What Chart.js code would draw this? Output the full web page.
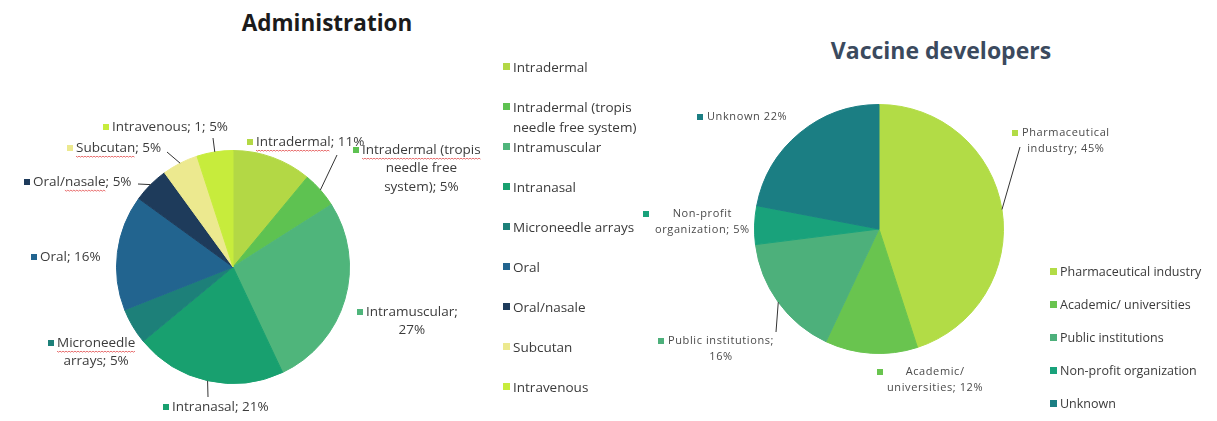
<!DOCTYPE html>
<html>
<head>
<meta charset="utf-8">
<title>Administration and vaccine developers</title>
<script src="https://cdn.jsdelivr.net/npm/chart.js@4.4.1/dist/chart.umd.min.js"></script>
<style>
  html, body { margin: 0; padding: 0; background: #fff; overflow: hidden; }
  body { width: 1217px; height: 421px; position: relative; font-family: "Open Sans", sans-serif; }
  .title { position: absolute; font-weight: bold; white-space: nowrap; transform: translate(-50%, -50%); }
  #adminTitle { left: 327px; top: 22px; font-size: 22.5px; color: #1b1b1b; }
  #devTitle { left: 941px; top: 50px; font-size: 23px; color: #3b4a5e; }
  canvas { position: absolute; top: 0; }
  #adminChart { left: 0; }
  #devChart { left: 640px; }
  .legend { position: absolute; top: 0; margin: 0; padding: 0; list-style: none; color: #3a3a3a; }
  .legend li { position: absolute; left: 0; display: flex; align-items: flex-start; line-height: 20px; }
  .legend .box { flex: none; width: 7px; height: 7px; margin: 6px 3px 0 0; }
  #adminLegend { left: 503px; font-size: 13.5px; }
  #adminLegend li { width: 150px; }
  #devLegend { left: 1050px; font-size: 12.5px; }
  #devLegend li { white-space: nowrap; }
</style>
</head>
<body>
<div class="title" id="adminTitle">Administration</div>
<div class="title" id="devTitle">Vaccine developers</div>
<canvas id="adminChart" width="640" height="421"></canvas>
<canvas id="devChart" width="577" height="421"></canvas>
<ul class="legend" id="adminLegend"></ul>
<ul class="legend" id="devLegend"></ul>
<script>
// Administration routes (share of vaccines, %)
const adminCategories = [
  'Intradermal', 'Intradermal (tropis needle free system)', 'Intramuscular', 'Intranasal',
  'Microneedle arrays', 'Oral', 'Oral/nasale', 'Subcutan', 'Intravenous'
];
const adminValues = [11, 5, 27, 21, 5, 16, 5, 5, 5];
const adminColors = [
  '#b3d845', '#5ec251', '#4fb57b', '#18a06f', '#1d8079', '#22648f', '#1e3b5b', '#ece98f', '#c7ec3c'
];
// Data label lines, {v} is replaced by the slice value
const adminLabelText = [
  ['Intradermal; {v}%'],
  ['Intradermal (tropis', 'needle free', 'system); {v}%'],
  ['Intramuscular;', '{v}%'],
  ['Intranasal; {v}%'],
  ['Microneedle', 'arrays; {v}%'],
  ['Oral; {v}%'],
  ['Oral/nasale; {v}%'],
  ['Subcutan; {v}%'],
  ['Intravenous; 1; {v}%']
];

// Vaccine developers (share, %)
const devCategories = [
  'Pharmaceutical industry', 'Academic/ universities', 'Public institutions',
  'Non-profit organization', 'Unknown'
];
const devValues = [45, 12, 16, 5, 22];
const devColors = ['#b2dc46', '#69c44f', '#4db07b', '#19a27b', '#1b7e83'];
const devLabelText = [
  ['Pharmaceutical', 'industry; {v}%'],
  ['Academic/', 'universities; {v}%'],
  ['Public institutions;', '{v}%'],
  ['Non-profit', 'organization; {v}%'],
  ['Unknown {v}%']
];

// Label placement, offsets in px from the pie centre (block left, first line middle)
const adminPlacement = [
  { x: 23, y: -125, mark: 'Intradermal' },
  { x: 129, y: -117, leader: [104, -112], mark: 'Intradermal (tropis' },
  { x: 133, y: 45 },
  { x: -61, y: 140, leader: [-25, 130] },
  { x: -176, y: 76, mark: 'Microneedle' },
  { x: -193, y: -10 },
  { x: -200, y: -85, leader: [-95, -83], mark: 'nasale' },
  { x: -157, y: -119, leader: [-66, -115], mark: 'Subcutan' },
  { x: -121, y: -140, leader: [-20, -129] }
];
const devPlacement = [
  { x: 143, y: -96, leader: [141, -82] },
  { x: 8, y: 143 },
  { x: -211, y: 112, leader: [-103, 103] },
  { x: -224, y: -15, gap: 12 },
  { x: -172, y: -112 }
];

// Draws the outside data labels with their colour markers and leader lines
const sliceLabels = {
  id: 'sliceLabels',
  afterDatasetsDraw(chart, args, opts) {
    const { ctx } = chart;
    const ds = chart.data.datasets[0];
    const meta = chart.getDatasetMeta(0);
    ctx.save();
    ctx.font = `${opts.size}px "Open Sans"`;
    ctx.letterSpacing = opts.spacing || '0px';
    ctx.textBaseline = 'middle';
    meta.data.forEach((arc, i) => {
      const p = opts.place[i];
      const { x: cx, y: cy, outerRadius: r, startAngle, endAngle } =
        arc.getProps(['x', 'y', 'outerRadius', 'startAngle', 'endAngle'], true);
      const mid = (startAngle + endAngle) / 2;
      if (p.leader) {
        ctx.beginPath();
        ctx.moveTo(cx + r * Math.cos(mid), cy + r * Math.sin(mid));
        ctx.lineTo(cx + p.leader[0], cy + p.leader[1]);
        ctx.strokeStyle = '#333';
        ctx.lineWidth = 1;
        ctx.stroke();
      }
      const lines = opts.text[i].map(t => t.replace('{v}', ds.data[i]));
      const widths = lines.map(l => ctx.measureText(l).width);
      const blockW = Math.max(...widths);
      const left = cx + p.x;
      const top = cy + p.y;
      const box = opts.box;
      ctx.fillStyle = ds.backgroundColor[i];
      ctx.fillRect(left - (p.gap || opts.gap), top - box / 2, box, box);
      lines.forEach((l, j) => {
        const lx = left + (blockW - widths[j]) / 2;
        const ly = top + j * opts.lineHeight;
        ctx.fillStyle = opts.color;
        ctx.fillText(l, lx, ly);
        const k = p.mark ? l.indexOf(p.mark) : -1;
        if (k >= 0) {
          // spell-check style wavy underline
          const sx = lx + ctx.measureText(l.slice(0, k)).width;
          const sw = ctx.measureText(p.mark).width;
          const sy = ly + opts.size * 0.62;
          ctx.beginPath();
          for (let t = 0; t <= sw; t += 1.5) {
            const yy = sy + ((Math.round(t / 1.5) % 2) ? 0.8 : -0.2);
            if (t === 0) ctx.moveTo(sx + t, yy); else ctx.lineTo(sx + t, yy);
          }
          ctx.strokeStyle = 'rgba(225, 70, 70, 0.75)';
          ctx.lineWidth = 1;
          ctx.stroke();
        }
      });
    });
    ctx.restore();
  }
};

function pieChart(id, labels, values, colors, padding, labelOpts) {
  return new Chart(document.getElementById(id), {
    type: 'pie',
    data: {
      labels,
      datasets: [{
        data: values,
        backgroundColor: colors,
        borderColor: colors,
        borderWidth: 1
      }]
    },
    options: {
      responsive: false,
      animation: false,
      layout: { padding },
      plugins: {
        legend: { display: false },
        tooltip: { enabled: false },
        sliceLabels: labelOpts
      }
    },
    plugins: [sliceLabels]
  });
}

pieChart('adminChart', adminCategories, adminValues, adminColors,
  { left: 116, right: 290, top: 150, bottom: 37 },
  { text: adminLabelText, place: adminPlacement, size: 13.5, lineHeight: 18.5, box: 6, gap: 9, color: '#3c3c3c' });

pieChart('devChart', devCategories, devValues, devColors,
  { left: 114, right: 213, top: 104, bottom: 67 },
  { text: devLabelText, place: devPlacement, size: 11, spacing: '0.6px', lineHeight: 16, box: 6, gap: 10, color: '#4a4a4a' });

function buildLegend(id, names, colors, y0, step) {
  const ul = document.getElementById(id);
  names.forEach((name, i) => {
    const li = document.createElement('li');
    li.style.top = (y0 + i * step - 10) + 'px';
    const box = document.createElement('span');
    box.className = 'box';
    box.style.background = colors[i];
    const txt = document.createElement('span');
    txt.textContent = name;
    li.append(box, txt);
    ul.appendChild(li);
  });
}

buildLegend('adminLegend', adminCategories, adminColors, 67, 40);
buildLegend('devLegend', devCategories, devColors, 272, 33);
</script>
</body>
</html>
